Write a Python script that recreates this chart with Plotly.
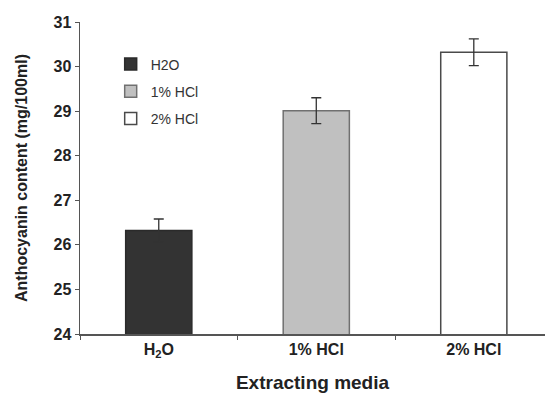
import plotly.graph_objects as go

categories = ["H<sub>2</sub>O", "1% HCl", "2% HCl"]
legend_names = ["H2O", "1% HCl", "2% HCl"]
values = [26.32, 29.01, 30.32]
errors = [0.26, 0.29, 0.30]
fill_colors = ["#333333", "#c0c0c0", "#ffffff"]
line_colors = ["#2a2a2a", "#707070", "#4a4a4a"]
y_ticks = [24, 25, 26, 27, 28, 29, 30, 31]

FONT = "Liberation Sans, Arial, sans-serif"

fig = go.Figure()
for i in range(3):
    fig.add_trace(go.Bar(
        x=[categories[i]], y=[values[i]], name=legend_names[i],
        legendgroup=legend_names[i],
        width=0.42,
        marker=dict(color=fill_colors[i], line=dict(color=line_colors[i], width=1.5)),
        error_y=dict(type="data", array=[errors[i]], visible=True,
                     color="#333333", thickness=1.3, width=5),
    ))

fig.update_layout(
    width=545, height=396,
    margin=dict(l=80, r=0, t=22, b=62, autoexpand=False),
    plot_bgcolor="white", paper_bgcolor="white",
    barmode="overlay",
    font=dict(family=FONT, color="#222222"),
    legend=dict(x=0.066, y=0.915, xanchor="left", yanchor="top",
                bgcolor="rgba(0,0,0,0)", font=dict(size=14, color="#333333"),
                itemwidth=30, tracegroupgap=6),
    showlegend=True,
)
fig.update_xaxes(
    range=[-0.5, 2.452], showline=True, linecolor="#555555", linewidth=1.5,
    ticks="outside", tickson="boundaries", ticklen=4, tickcolor="#555555",
    tickfont=dict(size=16, color="#222222", family=FONT),
    tickvals=categories, ticktext=["<b>" + c + "</b>" for c in categories],
    title=dict(text="<b>Extracting media</b>", font=dict(size=19, color="#222222"), standoff=16),
    showgrid=False, automargin=False,
)
fig.update_yaxes(
    range=[24, 31], tickvals=y_ticks, ticktext=["<b>%d</b>" % v for v in y_ticks],
    showline=True, linecolor="#555555", linewidth=1.5,
    ticks="outside", ticklen=4, tickcolor="#555555",
    tickfont=dict(size=16, color="#222222", family=FONT),
    title=dict(text="<b>Anthocyanin content (mg/100ml)</b>", font=dict(size=16, color="#222222"), standoff=22),
    showgrid=False, zeroline=False, automargin=False,
)

fig.write_html("out.html",
               config={"displayModeBar": False, "staticPlot": True},
               post_script="document.body.style.margin='0';document.body.style.overflow='hidden';")
